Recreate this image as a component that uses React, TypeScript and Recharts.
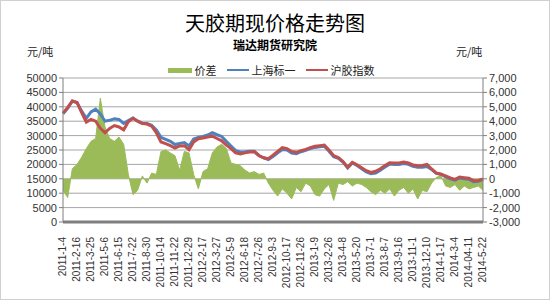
import React from 'react';
import { ComposedChart, Area, Line, XAxis, YAxis, CartesianGrid, Legend } from 'recharts';

const dates = [
  '2011-1-4', '2011-1-18', '2011-1-28', '2011-2-16', '2011-3-1', '2011-3-11', '2011-3-25', '2011-4-8', '2011-4-21',
  '2011-5-6', '2011-5-19', '2011-6-1', '2011-6-15', '2011-6-28', '2011-7-11', '2011-7-22', '2011-8-4', '2011-8-17',
  '2011-8-30', '2011-9-13', '2011-9-26', '2011-10-14', '2011-10-27', '2011-11-9', '2011-11-22', '2011-12-5', '2011-12-16',
  '2011-12-29', '2012-1-12', '2012-2-3', '2012-2-17', '2012-2-29', '2012-3-13', '2012-3-27', '2012-4-11', '2012-4-24',
  '2012-5-9', '2012-5-22', '2012-6-4', '2012-6-18', '2012-7-2', '2012-7-13', '2012-7-26', '2012-8-8', '2012-8-21',
  '2012-9-3', '2012-9-14', '2012-9-27', '2012-10-17', '2012-10-30', '2012-11-12', '2012-11-26', '2012-12-7', '2012-12-20',
  '2013-1-9', '2013-1-22', '2013-2-4', '2013-2-26', '2013-3-11', '2013-3-22', '2013-4-8', '2013-4-19', '2013-5-6',
  '2013-5-20', '2013-5-31', '2013-6-18', '2013-7-1', '2013-7-12', '2013-7-25', '2013-8-7', '2013-8-20', '2013-9-2',
  '2013-9-16', '2013-9-27', '2013-10-17', '2013-11-1', '2013-11-14', '2013-11-27', '2013-12-10', '2013-12-23', '2014-1-6',
  '2014-1-17', '2014-1-30', '2014-2-19', '2014-3-4', '2014-3-17', '2014-3-28', '2014-04-11', '2014-4-24', '2014-5-9',
  '2014-5-22',
];

// 上海标一 (left axis)
const spot = [
  37600, 39500, 42000, 41500, 38500, 36000, 38200, 39200, 37500, 35000, 35300, 35800, 35600, 34200, 35200, 36100,
  35000, 34300, 34200, 33600, 32000, 29400, 28700, 28000, 26900, 27300, 27600, 26400, 28800, 29400, 29700, 30200,
  31000, 30300, 29700, 28000, 26400, 24800, 24300, 24400, 24600, 24600, 23100, 22300, 21700, 22700, 24000, 25200,
  25000, 23900, 23700, 24400, 24900, 25500, 25900, 26100, 26300, 24600, 22700, 22100, 20800, 18800, 20500, 19600,
  18500, 17400, 16800, 17000, 18000, 19100, 20100, 20000, 20000, 20300, 20000, 19300, 19000, 19000, 19300, 18200,
  16900, 16600, 15700, 15000, 14500, 15300, 15000, 14800, 14000, 14100, 14800,
];

// 沪胶指数 (left axis)
const futures = [
  37800, 39800, 42000, 41500, 38000, 34700, 35600, 35000, 32500, 31000, 32500, 33500, 33000, 32000, 34800, 36000,
  35000, 34200, 34000, 33300, 31000, 27800, 27200, 26500, 25700, 26400, 26500, 25100, 27800, 28900, 29200, 29500,
  29800, 29000, 28200, 26700, 25500, 24000, 23600, 24000, 24300, 24400, 23000, 22300, 22000, 23200, 24500, 25800,
  25500, 24500, 24200, 24800, 25200, 25800, 26300, 26500, 26700, 25000, 23000, 22400, 21000, 19000, 20700, 19900,
  18800, 17800, 17200, 17600, 18500, 19600, 20600, 20500, 20500, 20800, 20500, 19800, 19500, 19600, 20000, 18400,
  17000, 16600, 16000, 15300, 14800, 15600, 15400, 15200, 14300, 14400, 15000,
];

// 价差 (right axis)
const spread = [
  -800, -1300, 700, 1000, 1500, 2100, 2600, 2800, 5600, 3600, 2800, 2600, 2900, 2400, 300, -1100,
  -800, 200, -300, 400, 300, 1900, 2000, 1800, 1600, 600, 1900, 1800, 300, -700, 500, 700,
  1800, 2200, 2400, 2100, 1100, 1000, 900, 600, 400, 500, 300, 400, -300, -800, -1200, -700,
  -1000, -1400, -600, -900, -300, -500, -1100, -1200, -700, -400, -1500, -300, -400, -200, -500, -300,
  -400, -600, -900, -1100, -800, -1000, -700, -1200, -800, -600, -1000, -700, -1400, -800, -900, -300,
  100, 200, -500, -600, -400, -800, -500, -700, -600, -500, -800,
];

const leftTicks = [0, 5000, 10000, 15000, 20000, 25000, 30000, 35000, 40000, 45000, 50000];
const rightTicks = [-3000, -2000, -1000, 0, 1000, 2000, 3000, 4000, 5000, 6000, 7000];

const data = dates.map((d, i) => ({ date: d, spot: spot[i], futures: futures[i], spread: spread[i] }));

const FONT = '"Liberation Sans", Arial, sans-serif';
const CJK = '"Noto Sans CJK SC", sans-serif';

function DateTick({ x, y, payload }: any) {
  return (
    <text
      x={0}
      y={0}
      transform={`translate(${x + 3},${y + 7}) rotate(-90)`}
      textAnchor="end"
      fontSize={10}
      fill="#333"
      fontFamily={FONT}
    >
      {payload.value}
    </text>
  );
}

function LegendBox() {
  const item = { display: 'flex', alignItems: 'center', marginRight: 10 } as React.CSSProperties;
  return (
    <div style={{ display: 'flex', justifyContent: 'center', fontFamily: CJK, fontSize: 11, color: '#222', paddingLeft: 2 }}>
      <div style={item}>
        <span style={{ width: 24, height: 5, background: '#9BBB59', marginRight: 3 }} />
        价差
      </div>
      <div style={item}>
        <span style={{ width: 22, height: 2, background: '#4F81BD', marginRight: 3 }} />
        上海标一
      </div>
      <div style={item}>
        <span style={{ width: 22, height: 2, background: '#C0504D', marginRight: 3 }} />
        沪胶指数
      </div>
    </div>
  );
}

export default function App() {
  return (
    <div style={{ position: 'absolute', left: 0, top: 0, width: 550, height: 300, background: '#fff' }}>
      <div style={{ position: 'absolute', inset: 0, border: '1px solid #d0d0d0', boxSizing: 'border-box' }} />
      <div style={{ position: 'absolute', top: 8, width: 550, textAlign: 'center', fontFamily: CJK, fontSize: 20, color: '#000' }}>
        天胶期现价格走势图
      </div>
      <div style={{ position: 'absolute', top: 36, width: 550, textAlign: 'center', fontFamily: CJK, fontSize: 12, fontWeight: 700, color: '#000' }}>
        瑞达期货研究院
      </div>
      <div style={{ position: 'absolute', top: 43, left: 27, fontFamily: CJK, fontSize: 11, color: '#222' }}>元/吨</div>
      <div style={{ position: 'absolute', top: 43, left: 456, fontFamily: CJK, fontSize: 11, color: '#222' }}>元/吨</div>
      <ComposedChart width={550} height={300} data={data} margin={{ top: 62, right: 0, bottom: 0, left: 0 }}>
        <CartesianGrid yAxisId="left" vertical={false} stroke="#a6a6a6" />
        <XAxis
          dataKey="date"
          interval={2}
          height={78}
          tick={<DateTick />}
          tickLine={false}
          axisLine={{ stroke: '#7f7f7f', strokeWidth: 3 }}
        />
        <YAxis
          yAxisId="left"
          domain={[0, 50000]}
          ticks={leftTicks}
          interval={0}
          width={63}
          tick={{ fontSize: 11, fill: '#333', fontFamily: FONT }}
          tickSize={4}
          tickLine={{ stroke: '#7f7f7f' }}
          axisLine={{ stroke: '#7f7f7f' }}
        />
        <YAxis
          yAxisId="right"
          orientation="right"
          domain={[-3000, 7000]}
          ticks={rightTicks}
          interval={0}
          width={67}
          tickFormatter={(v: number) => v.toLocaleString('en-US')}
          tick={{ fontSize: 11, fill: '#333', fontFamily: FONT }}
          tickSize={4}
          tickLine={{ stroke: '#7f7f7f' }}
          axisLine={{ stroke: '#7f7f7f' }}
        />
        <Legend verticalAlign="top" wrapperStyle={{ top: 62, left: 0, width: 550 }} content={<LegendBox />} />
        <Area
          yAxisId="right"
          type="linear"
          dataKey="spread"
          name="价差"
          stroke="#9BBB59"
          strokeWidth={1}
          fill="#9BBB59"
          fillOpacity={1}
          baseValue={0}
          isAnimationActive={false}
        />
        <Line
          yAxisId="left"
          type="linear"
          dataKey="spot"
          name="上海标一"
          stroke="#4F81BD"
          strokeWidth={3}
          dot={false}
          isAnimationActive={false}
        />
        <Line
          yAxisId="left"
          type="linear"
          dataKey="futures"
          name="沪胶指数"
          stroke="#C0504D"
          strokeWidth={3}
          dot={false}
          isAnimationActive={false}
        />
      </ComposedChart>
    </div>
  );
}
